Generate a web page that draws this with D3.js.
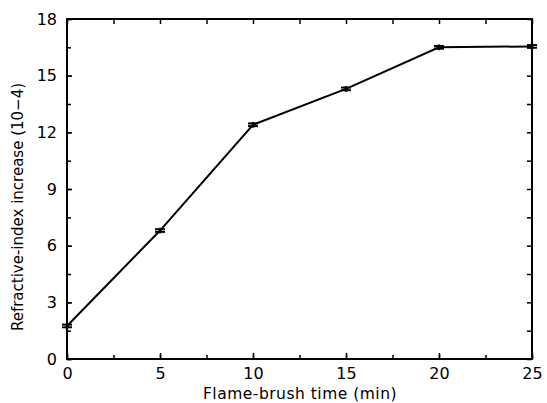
<!DOCTYPE html>
<html>
<head>
<meta charset="utf-8">
<script src="https://cdn.jsdelivr.net/npm/d3@7"></script>
<style>
  body { margin: 0; background: #fff; }
  text { font-family: "DejaVu Sans", "Liberation Sans", sans-serif; fill: #000; }
</style>
</head>
<body>
<div id="chart"></div>
<script>
const times = [0, 5, 10, 15, 20, 25];
const increase = [1.75, 6.8, 12.4, 14.3, 16.5, 16.55];
const errors = [0.15, 0.15, 0.15, 0.15, 0.15, 0.15];
const xTicks = [0, 5, 10, 15, 20, 25];
const yTicks = [0, 3, 6, 9, 12, 15, 18];

const W = 547, H = 403;
const margin = {top: 19, right: 15, bottom: 44, left: 67};
const width = W - margin.left - margin.right,
      height = H - margin.top - margin.bottom;

const svg = d3.select("#chart").append("svg")
  .attr("width", W).attr("height", H);
const g = svg.append("g").attr("transform", `translate(${margin.left},${margin.top})`);

const x = d3.scaleLinear().domain([0, 25]).range([0, width]);
const y = d3.scaleLinear().domain([0, 18]).range([height, 0]);

const xMinor = d3.range(0, 25.01, 2.5);
const yMinor = d3.range(0, 18.01, 1.5);

// inward ticks on all four sides
function ticks(sel, axis) { sel.call(axis).select(".domain").remove(); sel.selectAll("line").attr("stroke-width", 1.5); }

g.append("g").attr("transform", `translate(0,${height})`)
  .call(s => ticks(s, d3.axisBottom(x).tickValues(xMinor).tickSize(-4).tickFormat("")));
g.append("g").attr("transform", `translate(0,${height})`)
  .call(s => ticks(s, d3.axisBottom(x).tickValues(xTicks).tickSize(-6).tickPadding(9).tickFormat(d3.format("d"))));
g.append("g")
  .call(s => ticks(s, d3.axisTop(x).tickValues(xMinor).tickSize(-5).tickFormat("")));
g.append("g")
  .call(s => ticks(s, d3.axisLeft(y).tickValues(yMinor).tickSize(-4).tickFormat("")));
g.append("g")
  .call(s => ticks(s, d3.axisLeft(y).tickValues(yTicks).tickSize(-5).tickPadding(10).tickFormat(d3.format("d"))));
g.append("g").attr("transform", `translate(${width},0)`)
  .call(s => ticks(s, d3.axisRight(y).tickValues(yMinor).tickSize(-5).tickFormat("")));

g.selectAll(".tick text").attr("font-size", 16).style("font-family", '"DejaVu Sans", sans-serif');

// frame
g.append("rect").attr("width", width).attr("height", height)
  .attr("fill", "none").attr("stroke", "#000").attr("stroke-width", 2);

const data = times.map((t, i) => ({t, v: increase[i], e: errors[i]}));

g.append("path").datum(data)
  .attr("fill", "none").attr("stroke", "#000").attr("stroke-width", 2)
  .attr("d", d3.line().x(d => x(d.t)).y(d => y(d.v)));

const eb = g.selectAll(".err").data(data).enter().append("g").attr("class", "err");
eb.append("line")
  .attr("x1", d => x(d.t)).attr("x2", d => x(d.t))
  .attr("y1", d => y(d.v - d.e)).attr("y2", d => y(d.v + d.e))
  .attr("stroke", "#000").attr("stroke-width", 2.5);
[-1, 1].forEach(s => {
  eb.append("line")
    .attr("x1", d => x(d.t) - 5).attr("x2", d => x(d.t) + 5)
    .attr("y1", d => y(d.v + s * d.e) + s * 1.5).attr("y2", d => y(d.v + s * d.e) + s * 1.5)
    .attr("stroke", "#000").attr("stroke-width", 2);
});

svg.append("text")
  .attr("x", 300).attr("y", 399)
  .attr("text-anchor", "middle").attr("font-size", 15.5)
  .attr("letter-spacing", 0.5)
  .text("Flame-brush time (min)");

svg.append("text")
  .attr("transform", `translate(23,${margin.top + height / 2 + 18}) rotate(-90)`)
  .attr("text-anchor", "middle").attr("font-size", 15)
  .text("Refractive-index increase (10\u22124)");
</script>
</body>
</html>
